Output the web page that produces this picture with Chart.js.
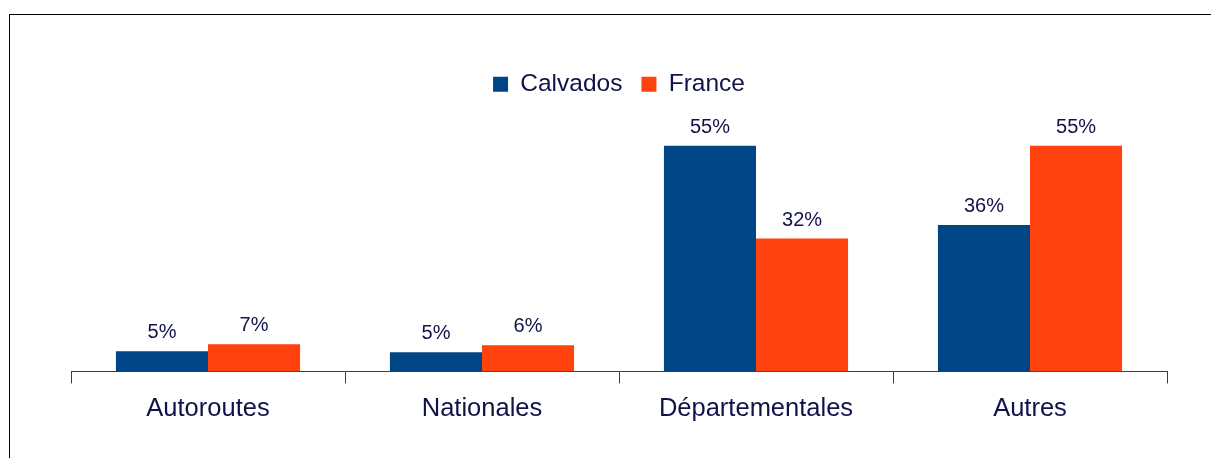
<!DOCTYPE html>
<html>
<head>
<meta charset="utf-8">
<script src="https://cdn.jsdelivr.net/npm/chart.js@4"></script>
<style>
    html, body { margin: 0; padding: 0; background: #fff; overflow: hidden; }
    #frame {
        position: absolute; left: 9px; top: 14px;
        width: 1400px; height: 600px;
        border-left: 1px solid #000; border-top: 1px solid #000;
    }
    #barChart { position: absolute; left: 0; top: 0; }
</style>
</head>
<body>
<div id="frame"></div>
<canvas id="barChart" width="1211" height="458"></canvas>
<script>
const categories = ['Autoroutes', 'Nationales', 'Départementales', 'Autres'];
const calvados = [4.9, 4.7, 55, 35.7];
const france = [6.6, 6.4, 32.4, 55];

const textColor = '#12124a';

// little plugin to write the % above each bar (no datalabels plugin offline)
const barLabels = {
    id: 'barLabels',
    afterDatasetsDraw(chart) {
        const ctx = chart.ctx;
        ctx.save();
        ctx.font = '20px "Liberation Sans", Arial, sans-serif';
        ctx.fillStyle = textColor;
        ctx.textAlign = 'center';
        ctx.textBaseline = 'alphabetic';
        chart.data.datasets.forEach((ds, i) => {
            chart.getDatasetMeta(i).data.forEach((bar, j) => {
                ctx.fillText(Math.round(ds.data[j]) + '%', bar.x, bar.y - 13);
            });
        });
        ctx.restore();
    }
};

var ctx = document.getElementById('barChart').getContext('2d');
new Chart(ctx, {
    type: 'bar',
    data: {
        labels: categories,
        datasets: [{
            label: 'Calvados',
            data: calvados,
            backgroundColor: '#004586',
            barPercentage: 1,
            categoryPercentage: 0.672
        }, {
            label: 'France',
            data: france,
            backgroundColor: '#ff420e',
            barPercentage: 1,
            categoryPercentage: 0.672
        }]
    },
    options: {
        responsive: false,
        animation: false,
        devicePixelRatio: 1,
        layout: {
            padding: { left: 71, right: 44, top: 53, bottom: 24 }
        },
        scales: {
            x: {
                grid: {
                    drawOnChartArea: false,
                    tickLength: 12,
                    color: '#3c3c3c'
                },
                border: { color: '#3c3c3c', width: 1 },
                ticks: {
                    color: textColor,
                    padding: 10,
                    font: { family: '"Liberation Sans", Arial, sans-serif', size: 25.5 }
                }
            },
            y: {
                display: false,
                min: 0,
                max: 64.6
            }
        },
        plugins: {
            legend: {
                labels: {
                    color: textColor,
                    boxWidth: 15,
                    boxHeight: 15,
                    padding: 19,
                    font: { family: '"Liberation Sans", Arial, sans-serif', size: 24.5 }
                }
            },
            tooltip: { enabled: false }
        }
    },
    plugins: [barLabels]
});
</script>
</body>
</html>
